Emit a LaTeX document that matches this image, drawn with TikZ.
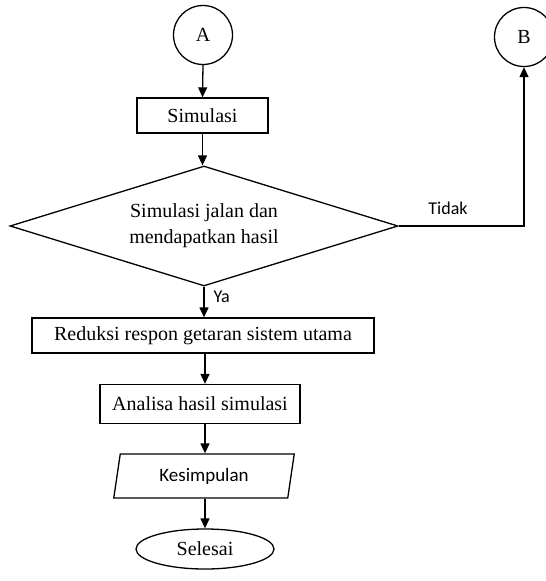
\documentclass[tikz,border=0pt]{standalone}
\usepackage{fontspec}
\setmainfont{Liberation Serif}
\newfontfamily\calib{Carlito}
\usetikzlibrary{shapes.geometric,arrows.meta}
\begin{document}
\begin{tikzpicture}[x=1pt,y=-1pt,
  every node/.style={inner sep=0pt, line width=1.3pt},
  base/.style={draw, font=\fontsize{20}{26}\selectfont},
  proc/.style={base, rectangle},
  conn/.style={base, circle, minimum size=59pt},
  decis/.style={base, diamond, aspect=3.2, minimum width=388pt, minimum height=120pt, align=center},
  io/.style={draw, trapezium, trapezium left angle=78, trapezium right angle=102,
    trapezium stretches=true, minimum width=182pt, minimum height=44pt,
    font=\calib\fontsize{19}{22}\selectfont},
  term/.style={base, ellipse, minimum width=138pt, minimum height=40pt},
  lbl/.style={font=\calib\fontsize{18}{20}\selectfont},
  flow/.style={line width=1.3pt, -{Triangle[length=10pt,width=9pt]}}]
\useasboundingbox (0,0) rectangle (546,581);
\node[conn] (A) at (203,35) {A};
\node[proc, minimum width=131pt, minimum height=35pt] (sim) at (202.5,115.5) {Simulasi};
\node[decis] (dec) at (204,226) {Simulasi jalan dan\\mendapatkan hasil};
\node[conn] (B) at (524,37) {B};
\node[proc, minimum width=342pt, minimum height=35pt] (red) at (203,335.5) {Reduksi respon getaran sistem utama};
\node[proc, minimum width=200pt, minimum height=39pt] (ana) at (200,404) {Analisa hasil simulasi};
\node[io] (kes) at (204,476) {Kesimpulan};
\node[term] (sel) at (205,549) {Selesai};
\coordinate (turn) at (524,226);
\draw[flow] (A.south) -- (sim.north);
\draw[flow] (sim.south) -- (sim.south |- dec.north);
\draw[flow] (dec.south) -- (dec.south |- red.north);
\draw[flow] (red.south -| sel.north) -- (sel.north |- ana.north);
\draw[flow] (ana.south -| sel.north) -- (sel.north |- kes.north);
\draw[flow] (kes.south -| sel.north) -- (sel.north);
\draw[flow] (dec.east) -- (turn) -- (B.south);
\node[lbl, anchor=west] (ya) at (213,297) {Ya};
\node[lbl] (tidak) at (448,208) {Tidak};
\end{tikzpicture}
\end{document}
